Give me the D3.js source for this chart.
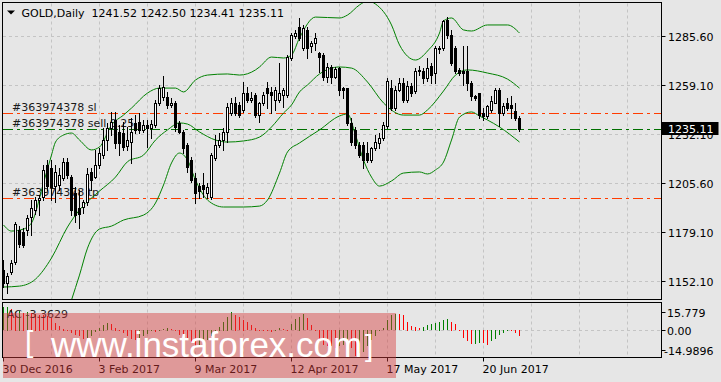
<!DOCTYPE html>
<html><head><meta charset="utf-8">
<script src="https://cdn.jsdelivr.net/npm/d3@7"></script>
<style>
html,body{margin:0;padding:0;background:#e6e6e6;overflow:hidden;}
svg{display:block;}
</style></head><body>
<script>
// ---------- DATA ----------
const symbol = "GOLD,Daily";
const dateLabels = ["30 Dec 2016","3 Feb 2017","9 Mar 2017","12 Apr 2017","17 May 2017","20 Jun 2017"];
const dateBars = [0,24,48,72,96,120];
const priceTicks = [1285.60,1259.10,1232.10,1205.60,1179.10,1152.10];

const open = [1158.5,1151.4,1157.4,1162.8,1180.3,1179.2,1180.3,1187.3,1191.2,1196.6,
1198.2,1215.7,1214.0,1204.2,1204.8,1208.6,1217.3,1209.1,1200.4,1192.2,
1192.8,1195.5,1211.9,1209.1,1215.7,1221.1,1229.3,1235.8,1240.2,1233.7,
1233.1,1226.0,1228.2,1238.6,1239.1,1234.8,1237.5,1235.8,1237.5,1249.5,
1252.7,1252.7,1248.4,1249.5,1238.6,1233.7,1226.6,1218.4,1208.6,1204.2,
1204.8,1200.4,1198.2,1219.5,1226.6,1229.3,1233.7,1244.0,1249.5,1248.4,
1245.7,1254.9,1251.1,1253.8,1242.9,1249.5,1257.6,1255.5,1251.1,1251.1,
1253.8,1253.8,1274.0,1286.0,1290.9,1279.4,1289.3,1280.5,1282.2,1276.7,
1275.6,1263.6,1269.1,1263.6,1268.5,1257.6,1257.6,1238.6,1234.8,1226.6,
1226.6,1222.2,1218.4,1224.9,1227.7,1230.4,1236.9,1257.6,1246.7,1256.6,
1260.4,1251.1,1258.7,1256.0,1266.9,1266.9,1263.1,1269.6,1265.8,1278.9,
1279.4,1294.7,1286.5,1279.4,1267.5,1266.9,1266.9,1260.4,1253.3,1254.9,
1244.0,1242.4,1245.7,1249.5,1256.6,1244.0,1249.5,1248.4,1245.1,1241.52];
const high = [1163.9,1156.8,1163.9,1184.6,1182.4,1181.3,1188.4,1196.6,1198.2,1199.3,
1215.7,1218.4,1218.4,1215.7,1214.0,1219.5,1219.5,1210.2,1203.7,1202.1,
1196.6,1214.0,1214.0,1223.9,1224.9,1235.8,1238.6,1244.6,1244.6,1237.5,
1239.1,1236.4,1241.3,1242.9,1244.0,1240.2,1240.2,1240.2,1251.1,1259.3,
1264.2,1255.5,1252.2,1250.6,1239.7,1234.8,1227.7,1220.0,1211.3,1205.9,
1211.3,1205.9,1222.2,1232.0,1233.1,1235.8,1249.5,1252.2,1252.7,1250.0,
1260.9,1258.2,1255.5,1254.9,1250.0,1255.5,1260.9,1258.2,1258.2,1271.3,
1257.6,1275.6,1287.6,1289.3,1295.8,1292.0,1290.9,1283.3,1287.6,1277.3,
1276.7,1271.3,1270.2,1269.1,1269.1,1258.2,1257.6,1241.3,1236.4,1228.2,
1228.2,1228.2,1225.5,1232.0,1233.1,1239.1,1263.1,1262.0,1258.7,1263.1,
1263.1,1261.5,1260.4,1268.5,1269.6,1268.5,1274.0,1271.3,1280.5,1280.5,
1294.7,1296.3,1289.3,1280.5,1268.5,1280.5,1280.5,1261.5,1253.8,1254.9,
1246.7,1248.4,1253.3,1257.6,1257.6,1249.5,1252.2,1253.3,1249.5,1242.50];
const low = [1149.2,1145.9,1156.3,1161.7,1171.0,1171.0,1177.5,1177.5,1189.0,1188.4,
1196.6,1202.1,1196.6,1195.5,1202.1,1207.5,1208.6,1188.4,1184.6,1181.3,
1189.5,1193.9,1202.1,1208.6,1214.0,1219.5,1223.9,1232.0,1224.9,1221.1,
1223.9,1223.9,1216.8,1233.1,1233.1,1233.7,1225.5,1230.4,1236.4,1248.4,
1251.1,1246.7,1247.3,1234.2,1233.1,1222.2,1211.9,1206.4,1195.0,1197.7,
1198.2,1197.7,1197.1,1218.4,1225.5,1223.9,1228.2,1242.9,1242.9,1241.8,
1244.6,1250.0,1250.0,1241.8,1239.1,1248.4,1246.7,1244.0,1245.7,1250.0,
1247.3,1252.7,1272.9,1284.9,1283.8,1278.4,1274.0,1277.3,1278.4,1266.4,
1262.0,1260.9,1260.4,1263.1,1253.8,1252.2,1237.5,1226.6,1224.9,1220.0,
1214.0,1217.3,1217.3,1223.9,1224.9,1229.3,1235.8,1245.7,1245.7,1256.0,
1250.0,1250.0,1253.3,1254.9,1264.7,1260.4,1261.5,1260.4,1260.4,1276.7,
1278.4,1284.9,1270.2,1265.8,1264.7,1259.3,1256.6,1251.1,1251.1,1241.3,
1240.2,1241.3,1244.6,1249.5,1236.9,1242.9,1245.7,1241.3,1240.2,1234.41];
const close = [1151.4,1155.2,1162.3,1183.5,1172.6,1172.1,1186.8,1192.2,1196.6,1197.7,
1213.0,1204.2,1203.7,1211.9,1210.2,1217.3,1210.2,1191.2,1188.4,1189.0,
1195.5,1210.8,1207.5,1215.7,1222.2,1229.3,1235.8,1239.1,1227.7,1227.7,
1225.5,1229.3,1233.7,1234.8,1234.8,1237.5,1235.8,1238.0,1249.5,1257.6,
1258.2,1248.4,1249.5,1236.4,1233.7,1224.9,1214.6,1207.5,1200.4,1201.5,
1202.6,1203.7,1221.1,1226.6,1229.3,1233.7,1247.3,1249.5,1244.0,1242.9,
1254.9,1251.1,1252.2,1242.9,1249.5,1253.8,1254.9,1253.8,1256.6,1254.9,
1256.6,1274.5,1286.5,1287.6,1284.9,1290.3,1279.4,1282.2,1284.9,1274.5,
1263.6,1269.1,1263.6,1268.0,1256.6,1256.6,1238.6,1228.2,1226.6,1221.1,
1218.4,1218.4,1224.9,1228.2,1230.4,1237.5,1261.5,1246.7,1256.6,1260.4,
1251.1,1258.7,1254.9,1266.9,1267.5,1263.1,1268.5,1264.7,1279.4,1279.4,
1294.2,1286.5,1271.3,1266.9,1265.8,1265.8,1260.4,1253.3,1252.2,1242.9,
1242.4,1247.8,1250.6,1256.6,1244.0,1247.8,1246.7,1246.7,1241.3,1235.11];

// Bollinger bands (read at sample bars)
const upperBar = [0,2,5,7,10,12,13,15,17,19,22,24,27,30,32,36,39,43,45,48,51,56,59,63,64,67,70,72,74,78,84,86,89,91,93,97,99,103,106,109,110,112,115,117,121,126,129];
const upperVal = [1183.0,1179.7,1180.8,1184.1,1205.9,1221.1,1228.2,1232.0,1233.1,1229.3,1223.9,1225.5,1237.5,1242.9,1246.7,1254.9,1257.6,1257.6,1255.5,1262.0,1264.7,1265.3,1264.7,1267.5,1269.1,1274.5,1274.0,1275.6,1284.9,1296.3,1295.8,1297.4,1302.9,1305.1,1303.4,1292.0,1281.1,1272.9,1277.8,1287.6,1294.2,1295.8,1289.3,1288.7,1292.0,1292.0,1287.6];
const midBar = [0,4,8,12,16,19,22,24,28,31,35,38,41,44,46,49,53,56,60,64,67,70,72,74,76,79,84,87,91,95,100,104,106,110,113,116,121,126,129];
const midVal = [1149.2,1149.7,1153.5,1165.0,1181.9,1191.2,1197.7,1201.5,1209.1,1217.5,1221.1,1229.3,1234.8,1238.6,1238.0,1233.7,1229.3,1228.2,1228.8,1230.9,1236.4,1244.0,1248.4,1255.5,1259.3,1265.3,1269.1,1268.5,1260.9,1249.5,1242.9,1242.9,1245.7,1256.0,1264.7,1267.5,1265.8,1262.5,1257.6];
const lowerBar = [0,4,8,12,16,17,19,21,24,27,30,35,38,40,42,44,46,48,51,55,60,64,66,69,71,74,79,84,86,88,90,92,94,97,100,104,106,108,110,112,114,117,119,121,124,129];
const lowerVal = [1115.4,1118.7,1118.7,1117.0,1135.0,1142.1,1155.7,1170.4,1180.8,1182.4,1185.7,1188.4,1195.0,1204.8,1216.8,1222.2,1218.4,1207.5,1196.6,1192.8,1192.8,1193.3,1196.6,1211.3,1222.8,1227.7,1234.8,1242.4,1243.5,1232.0,1218.4,1209.1,1204.2,1207.0,1211.3,1211.9,1210.8,1213.0,1217.3,1229.3,1241.8,1244.6,1242.4,1240.2,1236.4,1228.2];

// order levels
const orderLabels = ["#363974378 sl","#363974378 sell 0.25","#363974378 tp"];
const orderPrices = [1243.9,1235.3,1197.5];

// Accelerator oscillator
const ac = [13.0,13.4,12.0,10.6,11.2,10.0,10.5,9.8,9.4,9.0,
8.5,7.9,6.8,4.0,2.5,1.0,-0.8,-1.7,-2.8,-3.6,
-4.9,-4.4,-3.2,-1.0,1.5,3.2,4.2,3.4,1.6,0.4,
-1.6,-3.2,-4.8,-5.5,-4.5,-3.3,-2.0,-0.8,-1.0,-0.4,
0.8,1.5,0.6,-0.5,-2.8,-4.2,-5.4,-7.0,-9.5,-8.6,
-7.3,-5.6,-3.5,-1.0,2.0,5.0,7.8,10.2,9.0,7.6,
6.0,4.5,3.0,1.5,0.3,-0.3,-0.7,-0.9,-0.2,1.2,
0.6,0.3,3.6,6.2,7.8,9.3,6.8,3.0,-0.2,-7.0,
-8.2,-9.0,-9.2,-10.0,-9.2,-8.6,-8.2,-10.2,-14.5,-13.0,
-12.2,-9.2,-5.4,-3.5,-0.5,1.2,5.8,8.6,9.3,9.2,
8.6,4.8,2.5,2.1,1.2,2.1,3.0,3.6,4.0,4.9,
5.9,6.3,4.9,3.6,-0.1,-4.5,-6.4,-7.8,-7.7,-7.2,
-7.4,-8.2,-6.4,-5.1,-2.6,-1.6,-0.5,-0.8,-1.6,-3.3629];
const acTickVals = [15.779,0,-14.9896];
const acTickLabels = ["15.779","0.00","-14.9896"];
const watermark = "www.instaforex.com";

// ---------- DRAW ----------
const W = 721, H = 382;
const FONT = "'DejaVu Sans', Verdana, sans-serif";
const svg = d3.select("body").append("svg").attr("width", W).attr("height", H)
  .style("font-family", FONT).style("font-size", "11px");
svg.append("rect").attr("width", W).attr("height", H).attr("fill", "#e6e6e6");

const n = open.length;
const x = d3.scaleLinear().domain([0, n - 1]).range([3.5, 3.5 + 4 * (n - 1)]);
const y = d3.scaleLinear().domain([1152.10, 1285.60]).range([281.7, 36.7]);
const yA = d3.scaleLinear().domain([-14.9896, 15.779]).range([357, 302.5]);
const px = v => Math.floor(v) + 0.5;

const LEFT = 2.5, RIGHT = 661.5, TOP = 2.5, MB = 299.5, AT = 302.5, AB = 357.5;

const defs = svg.append("defs");
defs.append("clipPath").attr("id", "mc").append("rect")
  .attr("x", 3).attr("y", 3).attr("width", RIGHT - 3).attr("height", MB - 3);
defs.append("clipPath").attr("id", "ac").append("rect")
  .attr("x", 3).attr("y", AT + 0.5).attr("width", RIGHT - 3).attr("height", AB - AT - 1);

const gridCol = "#c4c4c4";
const vBars = d3.range(12, 160, 12);
// vertical grid (main + AC)
[[TOP + 1, MB - 1], [AT + 1, AB - 1]].forEach(([a, b]) => {
  svg.append("g").selectAll("line").data(vBars).join("line")
    .attr("x1", d => px(x(d))).attr("x2", d => px(x(d)))
    .attr("y1", a).attr("y2", b)
    .attr("stroke", gridCol).attr("stroke-dasharray", "3,3");
});
// horizontal grid
svg.append("g").selectAll("line").data(priceTicks).join("line")
  .attr("x1", 3).attr("x2", RIGHT).attr("y1", d => px(y(d))).attr("y2", d => px(y(d)))
  .attr("stroke", gridCol).attr("stroke-dasharray", "3,3");
// AC zero line
svg.append("line").attr("x1", 3).attr("x2", RIGHT)
  .attr("y1", px(yA(0))).attr("y2", px(yA(0)))
  .attr("stroke", gridCol).attr("stroke-dasharray", "3,3");

const main = svg.append("g").attr("clip-path", "url(#mc)");

// order lines
const orderColors = ["#ff3c00", "#007000", "#ff3c00"];
main.selectAll("line.ord").data(orderPrices).join("line").attr("class", "ord")
  .attr("x1", 3).attr("x2", RIGHT)
  .attr("y1", d => px(y(d))).attr("y2", d => px(y(d)))
  .attr("stroke", (d, i) => orderColors[i]).attr("stroke-dasharray", "10,4,3,4");
main.selectAll("text.ord").data(orderPrices).join("text").attr("class", "ord")
  .attr("x", 12).attr("y", d => Math.floor(y(d)) - 2)
  .attr("fill", "#1a1a1a").text((d, i) => orderLabels[i]);

// Bollinger bands
const band = (bars, vals) => d3.line().curve(d3.curveMonotoneX)
  .x(d => x(bars[d])).y(d => y(vals[d]))(d3.range(bars.length));
[[upperBar, upperVal], [midBar, midVal], [lowerBar, lowerVal]].forEach(([b, v]) => {
  main.append("path").attr("d", band(b, v)).attr("fill", "none")
    .attr("stroke", "#008000").attr("stroke-width", 1);
});

// candles
const idx = d3.range(n);
const cg = main.append("g");
idx.forEach(i => {
  const col = Math.floor(x(i));
  const yh = Math.round(y(high[i])), yl = Math.round(y(low[i]));
  const yt = Math.round(y(Math.max(open[i], close[i])));
  const yb = Math.round(y(Math.min(open[i], close[i])));
  cg.append("rect").attr("x", col).attr("y", yh).attr("width", 1)
    .attr("height", Math.max(1, yl - yh + 1)).attr("fill", "#000");
  if (close[i] > open[i]) {
    cg.append("rect").attr("x", col - 0.5).attr("y", yt + 0.5).attr("width", 2)
      .attr("height", Math.max(0, yb - yt)).attr("fill", "#fff")
      .attr("stroke", "#000").attr("stroke-width", 1);
  } else {
    cg.append("rect").attr("x", col - 1).attr("y", yt).attr("width", 3)
      .attr("height", Math.max(1, yb - yt + 1)).attr("fill", "#000");
  }
});

// AC bars
const acg = svg.append("g").attr("clip-path", "url(#ac)");
const y0 = yA(0);
acg.selectAll("rect").data(idx).join("rect")
  .attr("x", i => Math.floor(x(i))).attr("width", 1)
  .attr("y", i => Math.round(Math.min(yA(ac[i]), y0)))
  .attr("height", i => Math.max(1, Math.round(Math.abs(yA(ac[i]) - y0))))
  .attr("fill", i => (i === 0 || ac[i] > ac[i - 1]) ? "#008000" : "#ff0000");

// panel borders
const bc = "#000";
svg.append("rect").attr("x", LEFT).attr("y", TOP).attr("width", RIGHT - LEFT).attr("height", MB - TOP)
  .attr("fill", "none").attr("stroke", bc);
svg.append("rect").attr("x", LEFT).attr("y", AT).attr("width", RIGHT - LEFT).attr("height", AB - AT)
  .attr("fill", "none").attr("stroke", bc);

// price axis labels + ticks
const pa = svg.append("g");
priceTicks.forEach(p => {
  const yy = px(y(p));
  pa.append("line").attr("x1", RIGHT).attr("x2", RIGHT + 4).attr("y1", yy).attr("y2", yy).attr("stroke", "#000");
  pa.append("text").attr("x", 668).attr("y", yy + 4).attr("fill", "#000").text(d3.format(".2f")(p));
});
// current price box
const lastC = close[n - 1];
const yc = y(lastC);
pa.append("rect").attr("x", RIGHT).attr("y", Math.round(yc) - 7).attr("width", 57).attr("height", 13).attr("fill", "#000");
pa.append("text").attr("x", 668).attr("y", Math.round(yc) + 4).attr("fill", "#fff").text(lastC.toFixed(2));

// AC axis labels
acTickVals.forEach((v, i) => {
  const c = Math.min(Math.max(yA(v), AT + 9.5), AB - 7);
  const yy = px(c);
  svg.append("line").attr("x1", RIGHT).attr("x2", RIGHT + 4).attr("y1", yy).attr("y2", yy).attr("stroke", "#000");
  svg.append("text").attr("x", v < 0 ? 664 : 667).attr("y", yy + 4).attr("fill", "#000").text(acTickLabels[i]);
});
svg.append("text").attr("x", 7).attr("y", 317.5).attr("fill", "#1a1a1a").text("AC " + ac[n - 1]);

// date axis
dateBars.forEach((b, i) => {
  const xx = px(x(b));
  svg.append("line").attr("x1", xx).attr("x2", xx).attr("y1", AB).attr("y2", AB + 4).attr("stroke", "#000");
  svg.append("text").attr("x", xx - 1).attr("y", 373).attr("fill", "#000").text(dateLabels[i]);
});

// header
svg.append("path").attr("d", "M7,10.5 L15,10.5 L11,14.5 Z").attr("fill", "#000");
svg.append("text").attr("x", 21.5).attr("y", 16.5).attr("fill", "#000")
  .style("white-space", "pre")
  .text(symbol + "  " + [open[n-1], high[n-1], low[n-1], close[n-1]].map(d3.format(".2f")).join(" "));

// watermark
svg.append("rect").attr("x", 3).attr("y", 313).attr("width", 393).attr("height", 65)
  .attr("fill", "rgb(215,60,60)").attr("opacity", 0.45);
const wm = svg.append("g").attr("fill", "#fff").style("font-family", "'Liberation Sans', Arial, sans-serif");
wm.append("text").attr("x", 25).attr("y", 352).style("font-size", "30px").text("[");
wm.append("text").attr("x", 51).attr("y", 357).style("font-size", "35px").text(watermark);
wm.append("text").attr("x", 365).attr("y", 356).style("font-size", "30px").text("]");
</script>
</body></html>
